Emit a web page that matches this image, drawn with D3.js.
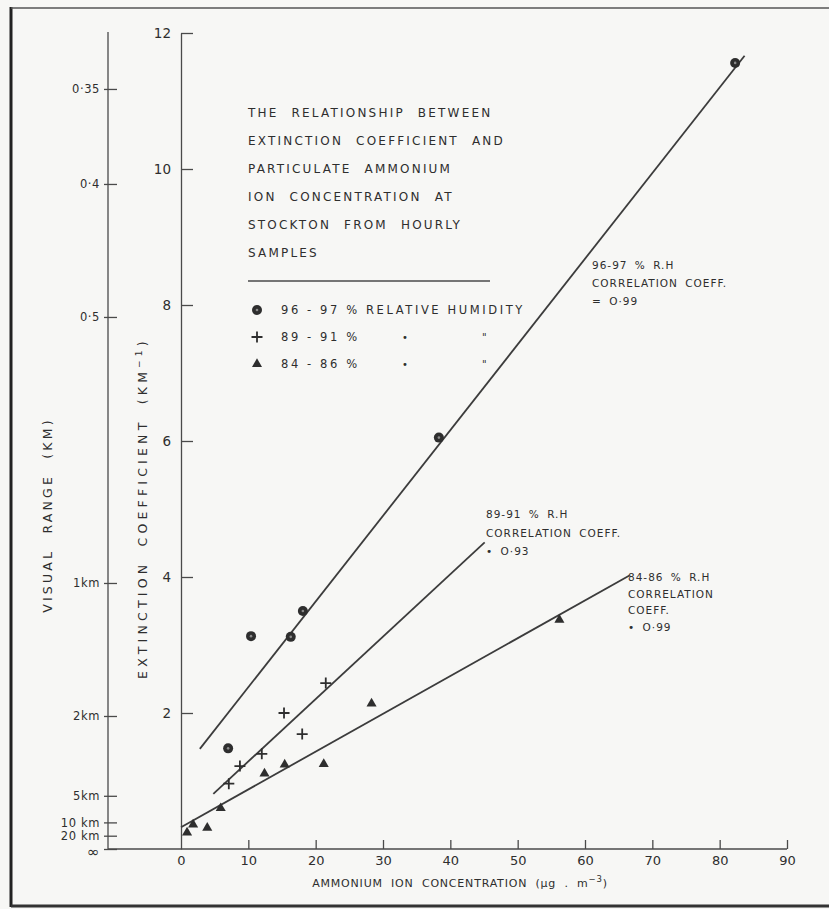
<!DOCTYPE html>
<html>
<head>
<meta charset="utf-8">
<script src="https://cdn.jsdelivr.net/npm/d3@7"></script>
<style>
  html, body { margin: 0; padding: 0; background: #f7f7f5; }
  svg text { font-family: 'DejaVu Sans', sans-serif; fill: #2e2e2e; }
  .axis path, .axis line { stroke: #4a4a4a; stroke-width: 1.3; }
</style>
</head>
<body>
<div id="chart"></div>
<script>
// Axis ticks
const xTicks = [0, 10, 20, 30, 40, 50, 60, 70, 80, 90];
const yTicks = [2, 4, 6, 8, 10, 12];
const visualRangeKm = [0.35, 0.4, 0.5, 1, 2, 5, 10, 20, Infinity];
const visualRangeLabels = ['0·35', '0·4', '0·5', '1km', '2km', '5km', '10 km', '20 km', '∞'];

// Hourly samples: ammonium (ug/m3) vs extinction coefficient (1/km)
const rh96Conc = [7.0, 10.4, 16.3, 18.1, 38.3, 82.3];
const rh96Ext  = [1.48, 3.13, 3.12, 3.50, 6.05, 11.56];
const rh89Conc = [7.1, 8.75, 12.0, 15.3, 18.0, 21.5];
const rh89Ext  = [0.96, 1.22, 1.40, 2.00, 1.69, 2.44];
const rh84Conc = [0.9, 1.8, 3.9, 5.9, 12.4, 15.4, 21.2, 28.3, 56.2];
const rh84Ext  = [0.24, 0.36, 0.31, 0.60, 1.11, 1.24, 1.25, 2.14, 3.37];

// Fitted lines
const fitSlope     = [0.126, 0.0918, 0.0556];
const fitIntercept = [1.12, 0.37, 0.32];
const fitFrom      = [2.8, 4.8, 0];
const fitTo        = [83.7, 45.1, 66.6];

const titleLines = [
  'THE RELATIONSHIP BETWEEN',
  'EXTINCTION COEFFICIENT AND',
  'PARTICULATE AMMONIUM',
  'ION CONCENTRATION AT',
  'STOCKTON FROM HOURLY',
  'SAMPLES'
];
const legendLabels = ['96 - 97 % RELATIVE HUMIDITY', '89 - 91 %', '84 - 86 %'];
const noteLines = [
  ['96-97 % R.H', 'CORRELATION COEFF.', '= O·99'],
  ['89-91 % R.H', 'CORRELATION COEFF.', '• O·93'],
  ['84-86 % R.H', 'CORRELATION', 'COEFF.', '• O·99']
];

const width = 829, height = 909;
const KOSCHMIEDER = 3.912;
const ink = '#2e2e2e';

const svg = d3.select('#chart').append('svg')
  .attr('width', width)
  .attr('height', height);

// photocopy frame
svg.append('rect').attr('width', width).attr('height', height).attr('fill', '#f7f7f5');
svg.append('line').attr('x1', 11).attr('x2', 11).attr('y1', 7).attr('y2', 907)
  .attr('stroke', '#222').attr('stroke-width', 3);
svg.append('line').attr('x1', 11).attr('x2', width).attr('y1', 8).attr('y2', 8)
  .attr('stroke', '#555').attr('stroke-width', 1.6);
svg.append('line').attr('x1', 11).attr('x2', width).attr('y1', 906).attr('y2', 906)
  .attr('stroke', '#333').attr('stroke-width', 3);

const x = d3.scaleLinear().domain([0, 90]).range([181, 787]);
const y = d3.scaleLinear().domain([0, 12]).range([849, 33]);

// visual range axis (same scale, ticks at 3.912 / range)
const vrAxis = svg.append('g')
  .attr('class', 'axis')
  .attr('transform', 'translate(108,0)')
  .call(d3.axisLeft(y)
    .tickValues(visualRangeKm.map(v => KOSCHMIEDER / v))
    .tickFormat((d, i) => visualRangeLabels[i])
    .tickSize(-9)
    .tickSizeOuter(0)
    .tickPadding(8));
vrAxis.select('.domain').attr('d', `M0,${y(12) - 1}V${y(0)}`);
vrAxis.selectAll('.tick line').attr('x1', -4).attr('x2', 9);
vrAxis.selectAll('.tick text').attr('font-size', 11.5).attr('letter-spacing', 0.6);
vrAxis.selectAll('.tick text').filter((d, i) => i === visualRangeKm.length - 1)
  .attr('font-size', 15).attr('dy', '0.5em');

// extinction axis
const yAxis = svg.append('g')
  .attr('class', 'axis')
  .attr('transform', 'translate(181,0)')
  .call(d3.axisLeft(y)
    .tickValues(yTicks)
    .tickSize(-12)
    .tickSizeOuter(0)
    .tickPadding(10));
yAxis.selectAll('.tick text').attr('font-size', 13.5);

// concentration axis
const xAxis = svg.append('g')
  .attr('class', 'axis')
  .attr('transform', 'translate(0,849)')
  .call(d3.axisBottom(x)
    .tickValues(xTicks)
    .tickSize(-9)
    .tickSizeOuter(0)
    .tickPadding(7));
xAxis.select('.domain').attr('d', `M108,0H${x(90)}`);
xAxis.selectAll('.tick line').filter(d => d === 0).remove();
xAxis.selectAll('.tick text').attr('font-size', 13);

// axis titles
svg.append('text')
  .attr('transform', 'translate(52,515) rotate(-90)')
  .attr('text-anchor', 'middle')
  .attr('font-size', 12.5)
  .attr('letter-spacing', 3.2)
  .attr('word-spacing', 8)
  .text('VISUAL RANGE (KM)');

const yt = svg.append('text')
  .attr('transform', 'translate(147,508) rotate(-90)')
  .attr('text-anchor', 'middle')
  .attr('font-size', 12.5)
  .attr('letter-spacing', 4.2)
  .attr('word-spacing', 6);
yt.append('tspan').text('EXTINCTION COEFFICIENT (KM');
yt.append('tspan').attr('dy', -5).attr('font-size', 9).text('−1');
yt.append('tspan').attr('dy', 5).text(')');

const xt = svg.append('text')
  .attr('x', 460).attr('y', 887)
  .attr('text-anchor', 'middle')
  .attr('font-size', 11)
  .attr('letter-spacing', 0.8)
  .attr('word-spacing', 4);
xt.append('tspan').text('AMMONIUM ION CONCENTRATION (μg . m');
xt.append('tspan').attr('dy', -5).attr('font-size', 8.5).text('−3');
xt.append('tspan').attr('dy', 5).text(')');

// fitted lines
const line = d3.line().x(d => x(d[0])).y(d => y(d[1]));
svg.append('g').selectAll('path')
  .data(fitSlope.map((s, i) => [
    [fitFrom[i], fitIntercept[i] + s * fitFrom[i]],
    [fitTo[i], fitIntercept[i] + s * fitTo[i]]
  ]))
  .join('path')
  .attr('d', line)
  .attr('fill', 'none')
  .attr('stroke', '#3c3c3c')
  .attr('stroke-width', 1.8);

// markers
const pts = (cs, es) => cs.map((c, i) => [c, es[i]]);
const marks = svg.append('g');

function drawCircle(sel) {
  sel.append('circle').attr('r', 5).attr('fill', ink);
  sel.append('circle').attr('r', 1.3).attr('fill', '#8a8a8a');
}
function drawPlus(sel) {
  sel.append('path').attr('d', 'M-5.5,0H5.5M0,-5.5V5.5')
    .attr('stroke', ink).attr('stroke-width', 1.8);
}
function drawTriangle(sel) {
  sel.append('path').attr('d', d3.symbol(d3.symbolTriangle, 44)())
    .attr('fill', ink);
}

marks.selectAll('g.rh96').data(pts(rh96Conc, rh96Ext)).join('g')
  .attr('class', 'rh96')
  .attr('transform', d => `translate(${x(d[0])},${y(d[1])})`)
  .call(drawCircle);
marks.selectAll('g.rh89').data(pts(rh89Conc, rh89Ext)).join('g')
  .attr('class', 'rh89')
  .attr('transform', d => `translate(${x(d[0])},${y(d[1])})`)
  .call(drawPlus);
marks.selectAll('g.rh84').data(pts(rh84Conc, rh84Ext)).join('g')
  .attr('class', 'rh84')
  .attr('transform', d => `translate(${x(d[0])},${y(d[1])})`)
  .call(drawTriangle);

// title block
svg.append('g').selectAll('text')
  .data(titleLines).join('text')
  .attr('x', 248)
  .attr('y', (d, i) => 117 + i * 28)
  .attr('font-size', 12)
  .attr('letter-spacing', 2.2)
  .attr('word-spacing', 7)
  .text(d => d);

svg.append('line')
  .attr('x1', 248).attr('x2', 490).attr('y1', 281).attr('y2', 281)
  .attr('stroke', '#4a4a4a').attr('stroke-width', 1.3);

// legend
const legend = svg.append('g').selectAll('g')
  .data(legendLabels).join('g')
  .attr('transform', (d, i) => `translate(257,${310 + i * 27})`);
legend.filter((d, i) => i === 0).call(drawCircle);
legend.filter((d, i) => i === 1).call(drawPlus);
legend.filter((d, i) => i === 2).call(drawTriangle);
legend.append('text')
  .attr('x', 24).attr('dy', '0.35em')
  .attr('font-size', 11.5)
  .attr('letter-spacing', 2.6)
  .text(d => d);
legend.filter((d, i) => i > 0).append('text')
  .attr('x', 145).attr('dy', '0.35em').attr('font-size', 10).text('•');
legend.filter((d, i) => i > 0).append('text')
  .attr('x', 225).attr('dy', '0.35em').attr('font-size', 10).text('"');

// line annotations
const noteAnchor = [[592, 269, 18], [486, 518, 18.5], [628, 581, 16.5]];
noteLines.forEach((lines, k) => {
  svg.append('g').selectAll('text')
    .data(lines).join('text')
    .attr('x', noteAnchor[k][0])
    .attr('y', (d, i) => noteAnchor[k][1] + i * noteAnchor[k][2])
    .attr('font-size', 10.5)
    .attr('letter-spacing', 1.0)
    .attr('word-spacing', 3)
    .text(d => d);
});
</script>
</body>
</html>
